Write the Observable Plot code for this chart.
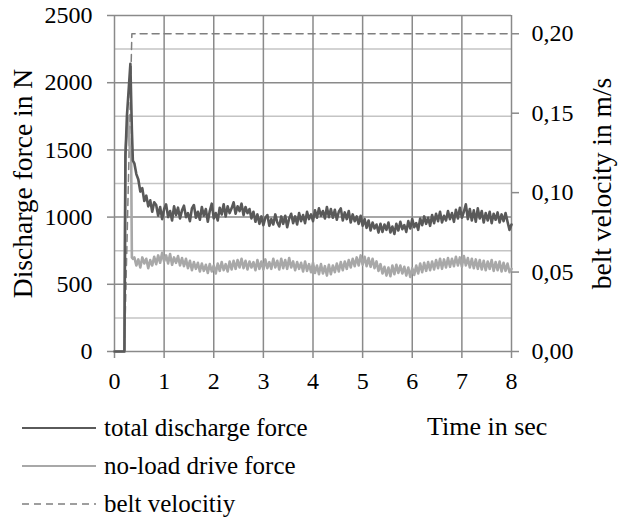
<!DOCTYPE html>
<html>
<head>
<meta charset="utf-8">
<script src="https://cdn.jsdelivr.net/npm/d3@7"></script>
<script src="https://cdn.jsdelivr.net/npm/@observablehq/plot@0.6"></script>
<style>
  body { margin: 0; background: #fff; }
  #wrap { position: relative; width: 624px; height: 519px; font-family: "Liberation Serif", "Times New Roman", serif; color: #000; }
  #chart { position: absolute; left: 0; top: 0; }
  .leg { position: absolute; left: 22px; height: 30px; display: flex; align-items: center; font-size: 25px; white-space: nowrap; }
  .leg svg { margin-right: 8px; }
  #xlabel { position: absolute; left: 427px; top: 412px; font-size: 26px; white-space: nowrap; }
</style>
</head>
<body>
<div id="wrap">
  <div id="chart"></div>
  <div id="xlabel">Time in sec</div>
  <div class="leg" style="top:413px"><svg width="74" height="10"><line x1="0" x2="74" y1="5" y2="5" stroke="#5a5a5a" stroke-width="2"/></svg>total discharge force</div>
  <div class="leg" style="top:451px"><svg width="74" height="10"><line x1="0" x2="74" y1="5" y2="5" stroke="#a8a8a8" stroke-width="2"/></svg>no-load drive force</div>
  <div class="leg" style="top:489px"><svg width="74" height="10"><line x1="0" x2="74" y1="5" y2="5" stroke="#7f7f7f" stroke-width="1.5" stroke-dasharray="7,5"/></svg>belt velocitiy</div>
</div>
<script>
// ---- data ----
// start-up phase (time in s, force in N)
const totalStartT = [0, 0.2, 0.22, 0.25, 0.32, 0.35, 0.37];
const totalStartF = [0, 0, 1450, 1750, 2140, 1650, 1420];
const noLoadStartT = [0, 0.2, 0.22, 0.27, 0.31, 0.335, 0.35, 0.37];
const noLoadStartF = [0, 0, 1480, 1750, 1500, 1480, 700, 690];

// steady phase samples: from 0.40 s, every 0.04 s (rows of 25 = 1 s)
const sampleStart = 0.4;
const sampleStep = 0.04;
const totalForce = [
  1400,1320,1280,1190,1215,1120,1160,1080,1125,1040,1110,1090,1010,1075,985,1060,1095,1000,1045,975,1080,1015,1070,990,1050,
  1085,1000,1030,970,1065,1090,995,1040,980,1075,1010,1060,965,1045,1100,990,1030,975,1070,1020,1095,1005,1080,1030,1065,
  1110,1025,1080,1045,1100,1015,1075,1030,1060,990,1040,965,1020,950,1005,940,995,1015,935,985,945,1020,960,930,1005,
  950,1010,925,990,1025,955,1005,945,1030,970,1015,955,1040,985,1020,970,1050,995,1065,1010,1045,990,1075,1000,1060,
  995,1055,980,1040,1065,975,1035,985,1045,960,1020,970,1005,950,1010,935,985,920,975,900,960,915,945,885,950,
  890,945,905,960,885,930,875,950,900,965,910,940,890,970,915,985,925,955,905,990,940,1005,950,995,935,
  1015,955,1025,970,1040,960,1010,975,1045,985,1030,965,1055,990,1070,995,1040,1095,985,1060,975,1050,965,1065,990,
  1045,960,1030,975,1040,955,1025,980,1035,960,1020,970,1030,965,905,945
];
const noLoadForce = [
  700,640,685,625,700,655,690,620,680,640,705,650,715,660,735,670,715,655,725,645,700,660,710,640,695,
  635,690,620,675,605,665,615,660,595,655,600,645,585,650,595,640,580,655,600,665,605,650,595,670,610,
  675,615,680,625,690,620,675,610,670,625,665,605,680,615,670,610,685,620,665,615,690,625,675,610,690,
  620,680,615,695,625,670,605,665,615,660,595,670,600,650,590,660,585,640,575,650,580,635,565,645,575,
  640,590,655,595,665,605,670,615,680,625,690,635,700,640,715,645,705,635,695,630,690,620,670,600,650,
  580,630,565,625,560,640,575,645,585,640,580,630,565,625,555,620,570,640,580,655,590,660,600,665,605,
  670,610,680,620,690,615,685,625,695,630,690,635,705,640,700,630,710,640,695,625,690,620,685,615,680,
  610,675,605,670,615,680,600,665,605,670,595,660,600,655,590,615
];

// belt velocity (m/s)
const velT = [0, 0.2, 0.35, 8];
const velV = [0, 0, 0.2, 0.2];

// axes
const xTicks = [0, 1, 2, 3, 4, 5, 6, 7, 8];
const yTicks = [0, 500, 1000, 1500, 2000, 2500];
const yMinor = [250, 750, 1250, 1750, 2250];
const vTicks = [0, 0.05, 0.10, 0.15, 0.20];
const vMax = 0.2115; // right axis top, aligned to 2500 N
const yMax = 2500;

// ---- build tables ----
const k = yMax / vMax;
const steady = (arr) => arr.map((f, i) => ({t: sampleStart + i * sampleStep, f}));
const total = totalStartT.map((t, i) => ({t, f: totalStartF[i]})).concat(steady(totalForce));
const noLoad = noLoadStartT.map((t, i) => ({t, f: noLoadStartF[i]})).concat(steady(noLoadForce));
const vel = velT.map((t, i) => ({t, f: velV[i] * k}));

const serif = "Liberation Serif";
const gridDark = "#8a8a8a";
const gridLight = "#c4c4c4";
const tickFont = {fontFamily: serif, fontSize: 24, fontVariant: "normal", fill: "#000"};

const chart = Plot.plot({
  width: 624,
  height: 400,
  marginLeft: 114,
  marginRight: 113,
  marginTop: 15,
  marginBottom: 49,
  style: {fontFamily: serif, fontSize: "24px", background: "#fff", color: "#000"},
  x: {domain: [0, 8]},
  y: {domain: [0, yMax]},
  marks: [
    Plot.ruleY(yMinor, {stroke: gridLight, strokeWidth: 1.5}),
    Plot.ruleY(yTicks, {stroke: gridDark, strokeWidth: 1.5}),
    Plot.ruleX(xTicks, {stroke: gridDark, strokeWidth: 1.5}),
    Plot.axisY({...tickFont, ticks: yTicks, tickFormat: d => String(d), tickSize: 7, tickPadding: 15, stroke: gridDark, strokeWidth: 1.5, label: null}),
    Plot.axisY({...tickFont, anchor: "right", ticks: vTicks.map(v => v * k), tickFormat: d => (d / k).toFixed(2).replace(".", ","), tickSize: 7, tickPadding: 13, stroke: gridDark, strokeWidth: 1.5, label: null}),
    Plot.axisX({...tickFont, ticks: xTicks, tickFormat: d => String(d), tickSize: 7, tickPadding: 13, stroke: gridDark, strokeWidth: 1.5, label: null}),
    Plot.line(vel, {x: "t", y: "f", stroke: "#7f7f7f", strokeWidth: 1.5, strokeDasharray: "7,5"}),
    Plot.line(noLoad, {x: "t", y: "f", stroke: "#a8a8a8", strokeWidth: 2.6}),
    Plot.line(total, {x: "t", y: "f", stroke: "#595959", strokeWidth: 2.6}),
    Plot.text(["Discharge force in N"], {text: d => d, frameAnchor: "left", dx: -91, rotate: -90, textAnchor: "middle", fontSize: 27.5, fontFamily: serif, fill: "#000"}),
    Plot.text(["belt velocity in m/s"], {text: d => d, frameAnchor: "right", dx: 91, rotate: -90, textAnchor: "middle", fontSize: 27.5, fontFamily: serif, fill: "#000"})
  ]
});
document.getElementById("chart").appendChild(chart);
</script>
</body>
</html>
